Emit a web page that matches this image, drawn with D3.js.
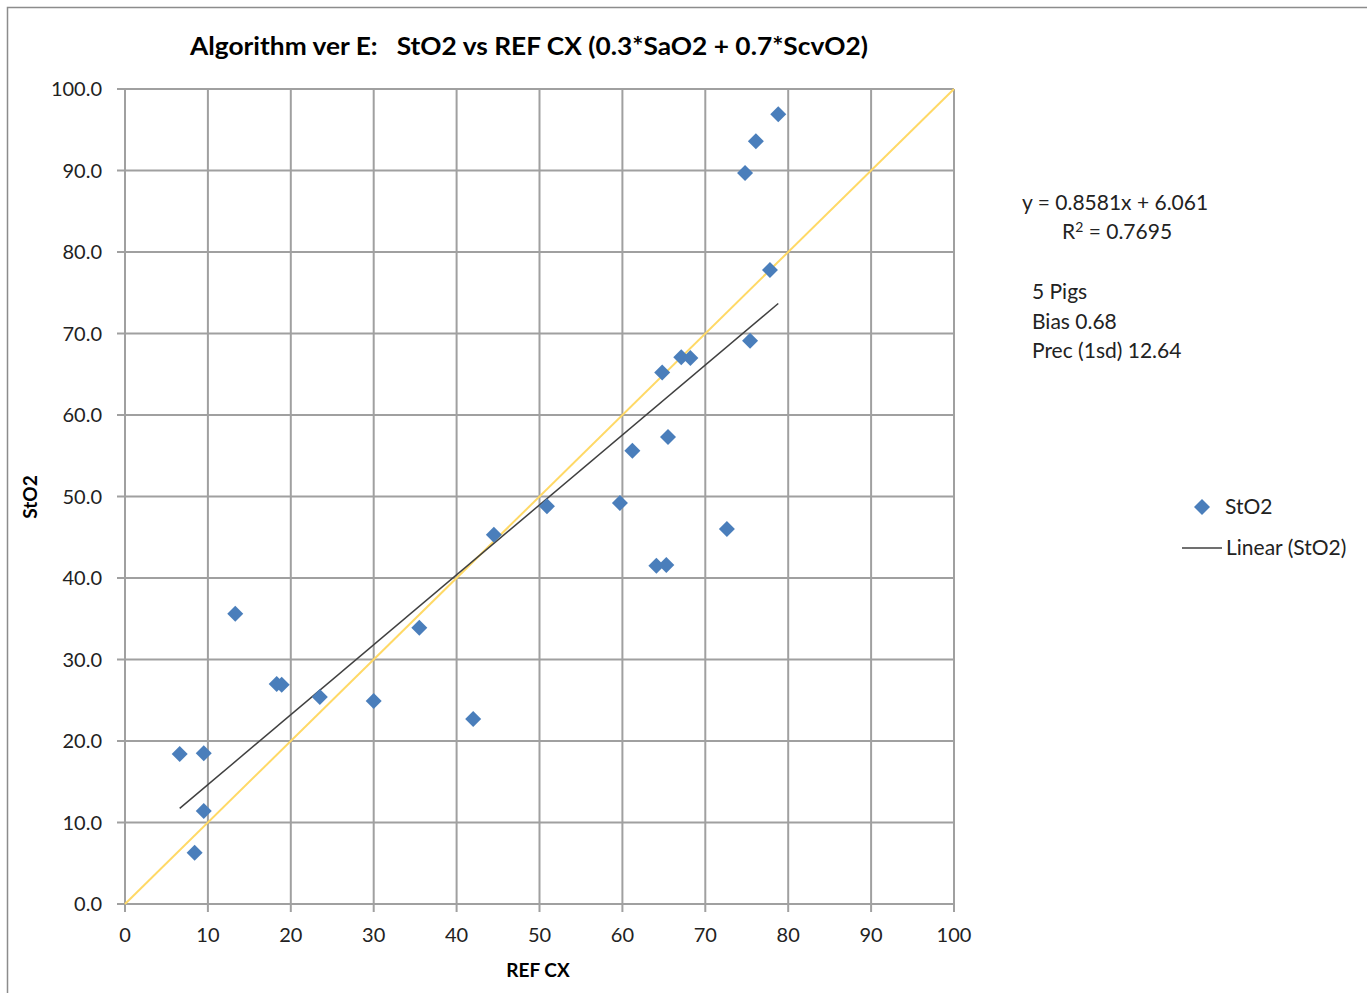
<!DOCTYPE html>
<html>
<head>
<meta charset="utf-8">
<style>
    body { margin: 0; background: white; }
    svg { display: block; font-family: Lato, 'Open Sans', sans-serif; }
</style>
</head>
<body>
<svg width="1367" height="993"></svg>
<script src="https://d3js.org/d3.v7.min.js"></script>
<script>
    // REF CX vs StO2
    let refCx = [6.6, 9.5, 9.5, 8.4, 13.3, 18.3, 18.9, 23.5, 30.0, 35.5, 42.0, 44.5, 50.9, 59.7,
        61.2, 65.5, 64.8, 67.1, 68.2, 64.1, 65.3, 72.6, 75.4, 77.8, 74.8, 76.1, 78.8];
    let sto2 = [18.4, 18.5, 11.4, 6.3, 35.6, 27.0, 26.9, 25.4, 24.9, 33.9, 22.7, 45.3, 48.8, 49.2,
        55.6, 57.3, 65.2, 67.1, 67.0, 41.5, 41.6, 46.0, 69.1, 77.8, 89.7, 93.6, 96.9];
    let xTicks = [0, 10, 20, 30, 40, 50, 60, 70, 80, 90, 100];
    let yTicks = [0, 10, 20, 30, 40, 50, 60, 70, 80, 90, 100];
    let slope = 0.8581, intercept = 6.061;
    let notes = ["5 Pigs", "Bias 0.68", "Prec (1sd) 12.64"];

    let svg = d3.select("svg");

    // outer frame
    svg.append("path")
        .attr("d", "M7.5,993 V7.5 H1367")
        .style("fill", "none")
        .style("stroke", "#8c8c8c")
        .style("stroke-width", 1.5);

    let x = d3.scaleLinear().domain([0, 100]).range([125, 954]);
    let y = d3.scaleLinear().domain([0, 100]).range([904, 89]);

    // gridlines
    svg.selectAll(".vgrid")
        .data(xTicks)
        .join("line")
        .attr("x1", d => x(d)).attr("x2", d => x(d))
        .attr("y1", y(100)).attr("y2", y(0) + 8)
        .style("stroke", "#a0a0a0")
        .style("stroke-width", 2);

    svg.selectAll(".hgrid")
        .data(yTicks)
        .join("line")
        .attr("x1", x(0) - 8).attr("x2", x(100))
        .attr("y1", d => y(d)).attr("y2", d => y(d))
        .style("stroke", "#a0a0a0")
        .style("stroke-width", 2);

    // tick labels
    svg.selectAll(".xlab")
        .data(xTicks)
        .join("text")
        .attr("x", d => x(d))
        .attr("y", 942)
        .attr("text-anchor", "middle")
        .style("font-size", "20px")
        .style("fill", "#222")
        .text(d => d);

    svg.selectAll(".ylab")
        .data(yTicks)
        .join("text")
        .attr("x", 102)
        .attr("y", d => y(d) + 7)
        .attr("text-anchor", "end")
        .style("font-size", "20px")
        .style("fill", "#222")
        .text(d => d3.format(".1f")(d));

    // identity line
    svg.append("line")
        .attr("x1", x(0)).attr("y1", y(0))
        .attr("x2", x(100)).attr("y2", y(100))
        .style("stroke", "#ffd966")
        .style("stroke-width", 2);

    // linear trendline
    let xmin = d3.min(refCx), xmax = d3.max(refCx);
    svg.append("line")
        .attr("x1", x(xmin)).attr("y1", y(slope * xmin + intercept))
        .attr("x2", x(xmax)).attr("y2", y(slope * xmax + intercept))
        .style("stroke", "#404040")
        .style("stroke-width", 1.5);

    let diamond = d3.symbol().type(d3.symbolSquare).size(128);

    svg.selectAll(".pt")
        .data(refCx)
        .join("path")
        .attr("d", diamond)
        .attr("transform", (d, i) => "translate(" + x(d) + "," + y(sto2[i]) + ") rotate(45)")
        .style("fill", "#4a7ebb");

    // title + axis titles
    svg.append("text")
        .attr("x", 190).attr("y", 55)
        .attr("textLength", 678)
        .attr("lengthAdjust", "spacingAndGlyphs")
        .style("white-space", "pre")
        .style("font-size", "24px")
        .style("font-weight", "bold")
        .text("Algorithm ver E:   StO2 vs REF CX (0.3*SaO2 + 0.7*ScvO2)");

    svg.append("text")
        .attr("x", 538).attr("y", 977)
        .attr("text-anchor", "middle")
        .style("font-size", "19px")
        .style("font-weight", "bold")
        .text("REF CX");

    svg.append("text")
        .attr("transform", "translate(37,497) rotate(-90)")
        .attr("text-anchor", "middle")
        .style("font-size", "19px")
        .style("font-weight", "bold")
        .text("StO2");

    // equation
    svg.append("text")
        .attr("x", 1022).attr("y", 210)
        .style("font-size", "21px")
        .style("fill", "#222")
        .text("y = " + slope + "x + " + intercept);

    let r2 = svg.append("text")
        .attr("x", 1062).attr("y", 239)
        .style("font-size", "21px")
        .style("fill", "#222");
    r2.append("tspan").text("R");
    r2.append("tspan").attr("dy", -7).style("font-size", "14px").text("2");
    r2.append("tspan").attr("dy", 7).text(" = 0.7695");

    svg.selectAll(".note")
        .data(notes)
        .join("text")
        .attr("x", 1032)
        .attr("y", (d, i) => 299 + i * 29.5)
        .style("font-size", "21px")
        .style("fill", "#222")
        .text(d => d);

    // legend
    svg.append("path")
        .attr("d", diamond)
        .attr("transform", "translate(1202,507) rotate(45)")
        .style("fill", "#4a7ebb");
    svg.append("text")
        .attr("x", 1225).attr("y", 514)
        .style("font-size", "21px")
        .style("fill", "#222")
        .text("StO2");

    svg.append("line")
        .attr("x1", 1182).attr("x2", 1222)
        .attr("y1", 548).attr("y2", 548)
        .style("stroke", "#404040")
        .style("stroke-width", 1.5);
    svg.append("text")
        .attr("x", 1226).attr("y", 555)
        .style("font-size", "21px")
        .style("fill", "#222")
        .text("Linear (StO2)");
</script>
</body>
</html>
